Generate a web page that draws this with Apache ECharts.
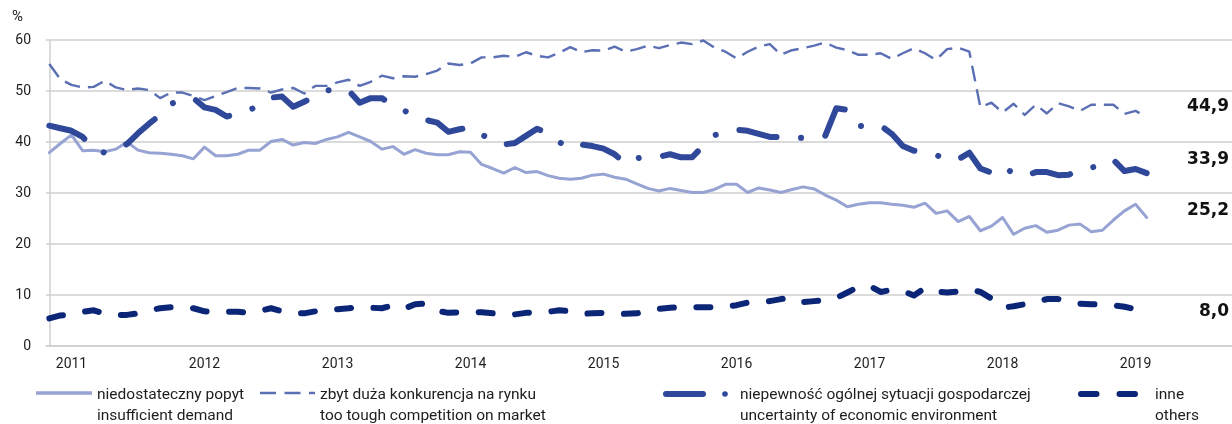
<!DOCTYPE html>
<html>
<head>
<meta charset="utf-8">
<script src="https://cdn.jsdelivr.net/npm/echarts@6/dist/echarts.min.js"></script>
<style>
  html, body { margin: 0; padding: 0; background: #ffffff; }
  #chart { width: 1232px; height: 424px; }
</style>
</head>
<body>
<div id="chart"></div>
<script>
// Monthly readings (%), November 2010 - February 2019; index 0 = November 2010
const firstYear = 2010;
const firstMonth = 11;
const yearLabels = ['2011', '2012', '2013', '2014', '2015', '2016', '2017', '2018', '2019'];

const seriesNames = [
  'niedostateczny popyt\ninsufficient demand',
  'zbyt duża konkurencja na rynku\ntoo tough competition on market',
  'niepewność ogólnej sytuacji gospodarczej\nuncertainty of economic environment',
  'inne\nothers'
];

const insufficientDemand = [
  37.9, 39.7, 41.4, 38.3, 38.4, 38.1, 38.6, 40.0, 38.4, 37.9,
  37.8, 37.6, 37.3, 36.7, 39.0, 37.3, 37.3, 37.6, 38.4, 38.4,
  40.1, 40.5, 39.4, 39.9, 39.7, 40.5, 41.0, 41.9, 41.0, 40.1,
  38.6, 39.1, 37.6, 38.5, 37.8, 37.5, 37.5, 38.1, 38.0, 35.6,
  34.8, 33.9, 35.0, 34.0, 34.2, 33.4, 32.9, 32.7, 32.9, 33.5,
  33.7, 33.1, 32.7, 31.8, 30.9, 30.4, 30.9, 30.5, 30.1, 30.1,
  30.7, 31.7, 31.7, 30.1, 31.0, 30.6, 30.1, 30.7, 31.2, 30.8,
  29.6, 28.6, 27.3, 27.8, 28.1, 28.1, 27.8, 27.6, 27.2, 28.0,
  26.0, 26.5, 24.4, 25.4, 22.6, 23.5, 25.2, 21.9, 23.1, 23.6,
  22.3, 22.7, 23.7, 23.9, 22.4, 22.7, 24.7, 26.5, 27.8, 25.2
];

const competition = [
  55.3, 52.3, 51.2, 50.7, 50.8, 52.0, 50.7, 50.2, 50.5, 50.2,
  48.6, 49.7, 49.7, 49.0, 48.2, 49.0, 49.8, 50.6, 50.6, 50.5,
  49.7, 50.3, 50.6, 49.5, 51.0, 51.0, 51.7, 52.2, 51.0, 51.8,
  53.0, 52.5, 52.9, 52.8, 53.3, 54.0, 55.4, 55.1, 55.4, 56.6,
  56.6, 56.9, 56.7, 57.6, 56.9, 56.6, 57.5, 58.6, 57.6, 58.0,
  57.9, 58.7, 57.7, 58.2, 58.9, 58.4, 59.0, 59.5, 59.2, 59.9,
  58.5, 57.7, 56.4, 57.7, 58.7, 59.2, 57.1, 58.0, 58.4, 58.9,
  59.5, 58.5, 58.0, 57.1, 57.1, 57.4, 56.3, 57.4, 58.4, 57.4,
  56.1, 58.2, 58.5, 57.7, 46.8, 47.7, 45.8, 47.5, 45.3, 47.3,
  45.6, 47.6, 47.0, 46.1, 47.3, 47.3, 47.3, 45.5, 46.1, 44.9
];

const uncertainty = [
  43.2, 42.7, 42.2, 41.0, 38.6, 37.9, 38.3, 39.6, 41.7, 43.6,
  45.3, 47.5, 48.3, 48.6, 46.8, 46.3, 45.0, 45.6, 46.1, 47.5,
  48.7, 48.9, 46.9, 47.9, 49.0, 50.1, 50.3, 50.1, 47.7, 48.6,
  48.6, 47.2, 46.2, 45.0, 44.3, 43.8, 42.0, 42.5, 42.9, 41.5,
  40.2, 39.5, 39.8, 41.2, 42.6, 41.7, 40.0, 38.7, 39.5, 39.2,
  38.7, 37.6, 35.7, 36.8, 37.2, 37.1, 37.6, 37.0, 37.0, 39.3,
  41.3, 42.2, 42.4, 42.2, 41.6, 41.0, 41.0, 40.9, 40.8, 41.0,
  41.2, 46.6, 46.3, 43.2, 43.0, 43.2, 41.6, 39.2, 38.3, 38.0,
  37.5, 36.4, 36.6, 37.9, 34.8, 34.0, 35.3, 33.8, 33.3, 34.1,
  34.1, 33.5, 33.6, 34.7, 35.0, 35.4, 36.5, 34.3, 34.7, 33.9
];

const others = [
  5.4, 6.0, 6.2, 6.7, 7.0, 6.3, 6.1, 6.1, 6.4, 7.0,
  7.4, 7.6, 7.7, 7.4, 6.8, 6.7, 6.7, 6.7, 6.5, 6.9,
  7.4, 6.8, 6.5, 6.4, 6.8, 7.2, 7.2, 7.4, 7.7, 7.5,
  7.4, 8.0, 7.3, 8.2, 8.3, 6.9, 6.5, 6.6, 6.7, 6.6,
  6.4, 6.1, 6.2, 6.5, 6.6, 6.7, 7.0, 6.8, 6.3, 6.4,
  6.5, 6.4, 6.3, 6.4, 6.9, 7.3, 7.5, 7.6, 7.6, 7.6,
  7.6, 7.7, 8.0, 8.5, 8.7, 8.8, 9.2, 9.5, 8.6, 8.8,
  9.0, 9.4, 10.5, 11.6, 11.8, 10.6, 11.0, 10.8, 9.9, 11.4,
  10.7, 10.5, 10.7, 11.1, 10.6, 9.3, 7.5, 7.8, 8.2, 8.6,
  9.2, 9.2, 8.7, 8.3, 8.2, 8.1, 8.0, 7.7, 7.2, 8.0
];

const COLORS = ['#97a3d3', '#5b6fb5', '#2f4899', '#0b2577'];
const FONT = 'Roboto, "Noto Sans", sans-serif';
const TEXT = '#1e1e1e';
const GRID_GRAY = '#cfcfcf';

// month index of each January, used as year tick positions
const yearTickIndex = yearLabels.map(y => (Number(y) - firstYear) * 12 + (1 - firstMonth));
const yearByIndex = {};
yearTickIndex.forEach((idx, k) => { yearByIndex[idx] = yearLabels[k]; });

const toPairs = arr => arr.map((v, i) => [i, v]);
const fmt = v => v.toFixed(1).replace('.', ',');

const chart = echarts.init(document.getElementById('chart'), null, { renderer: 'canvas' });

const lineSeries = [
  { data: insufficientDemand, width: 3, type: 'solid', cap: 'round' },
  { data: competition, width: 2.4, type: [16, 8], cap: 'butt' },
  { data: uncertainty, width: 6, type: [38, 24.5, 0.01, 24.5], cap: 'round' },
  { data: others, width: 6, type: [14, 22.5], cap: 'round' }
].map((s, k) => ({
  name: seriesNames[k],
  type: 'line',
  data: toPairs(s.data),
  showSymbol: false,
  symbol: 'none',
  smooth: false,
  z: 2 + k,
  lineStyle: { color: COLORS[k], width: s.width, type: s.type, cap: s.cap, join: 'round' },
  emphasis: { disabled: true }
}));

// closing values printed on the right
const endValues = [competition, uncertainty, insufficientDemand, others].map(a => a[a.length - 1]);
const endLabelY = [108.5, 161.5, 212, 313.5];
const endLabels = endValues.map((v, k) => ({
  type: 'text',
  right: 3,
  top: endLabelY[k] - 10,
  style: {
    text: fmt(v),
    font: 'bold 17px "DejaVu Sans", sans-serif',
    fill: '#111111',
    textAlign: 'right'
  }
}));

// legend drawn as graphic items
const legendY = 393;
const legendText = (x, k) => ({
  type: 'text', left: x, top: 385,
  style: { text: seriesNames[k], font: '15.5px ' + FONT, fill: TEXT, lineHeight: 20.5 }
});
const legend = [
  { type: 'line', shape: { x1: 36, y1: legendY, x2: 92, y2: legendY },
    style: { stroke: COLORS[0], lineWidth: 3.5 } },
  legendText(97, 0),
  { type: 'line', shape: { x1: 260, y1: legendY, x2: 315, y2: legendY },
    style: { stroke: COLORS[1], lineWidth: 2.4, lineDash: [16, 8.5] } },
  legendText(320, 1),
  { type: 'line', shape: { x1: 666, y1: legendY + 1, x2: 703, y2: legendY + 1 },
    style: { stroke: COLORS[2], lineWidth: 6, lineCap: 'round' } },
  { type: 'circle', shape: { cx: 725, cy: legendY + 1, r: 2.8 }, style: { fill: COLORS[2] } },
  legendText(740, 2),
  { type: 'line', shape: { x1: 1081, y1: legendY + 1, x2: 1135, y2: legendY + 1 },
    style: { stroke: COLORS[3], lineWidth: 6, lineCap: 'round', lineDash: [15.5, 23] } },
  legendText(1155, 3)
];

chart.setOption({
  animation: false,
  backgroundColor: '#ffffff',
  grid: { left: 46, right: 0, top: 40, bottom: 78, containLabel: false },
  xAxis: {
    type: 'value',
    min: -0.3,
    max: 106.7,
    axisLine: { show: true, lineStyle: { color: GRID_GRAY, width: 1.5 } },
    axisTick: { show: false },
    splitLine: { show: false },
    axisLabel: {
      customValues: yearTickIndex,
      formatter: v => yearByIndex[Math.round(v)] || '',
      fontFamily: FONT,
      fontSize: 14,
      color: TEXT,
      margin: 11
    }
  },
  yAxis: {
    type: 'value',
    min: 0,
    max: 60,
    interval: 10,
    axisLine: { show: true, lineStyle: { color: GRID_GRAY, width: 1.5 } },
    axisTick: { show: false },
    splitLine: { show: true, lineStyle: { color: GRID_GRAY, width: 1.5 } },
    axisLabel: { fontFamily: FONT, fontSize: 14, color: TEXT, margin: 15 }
  },
  graphic: [
    { type: 'text', left: 12, top: 10,
      style: { text: '%', font: '15px ' + FONT, fill: TEXT } },
    ...endLabels,
    ...legend
  ],
  series: lineSeries
});
</script>
</body>
</html>
